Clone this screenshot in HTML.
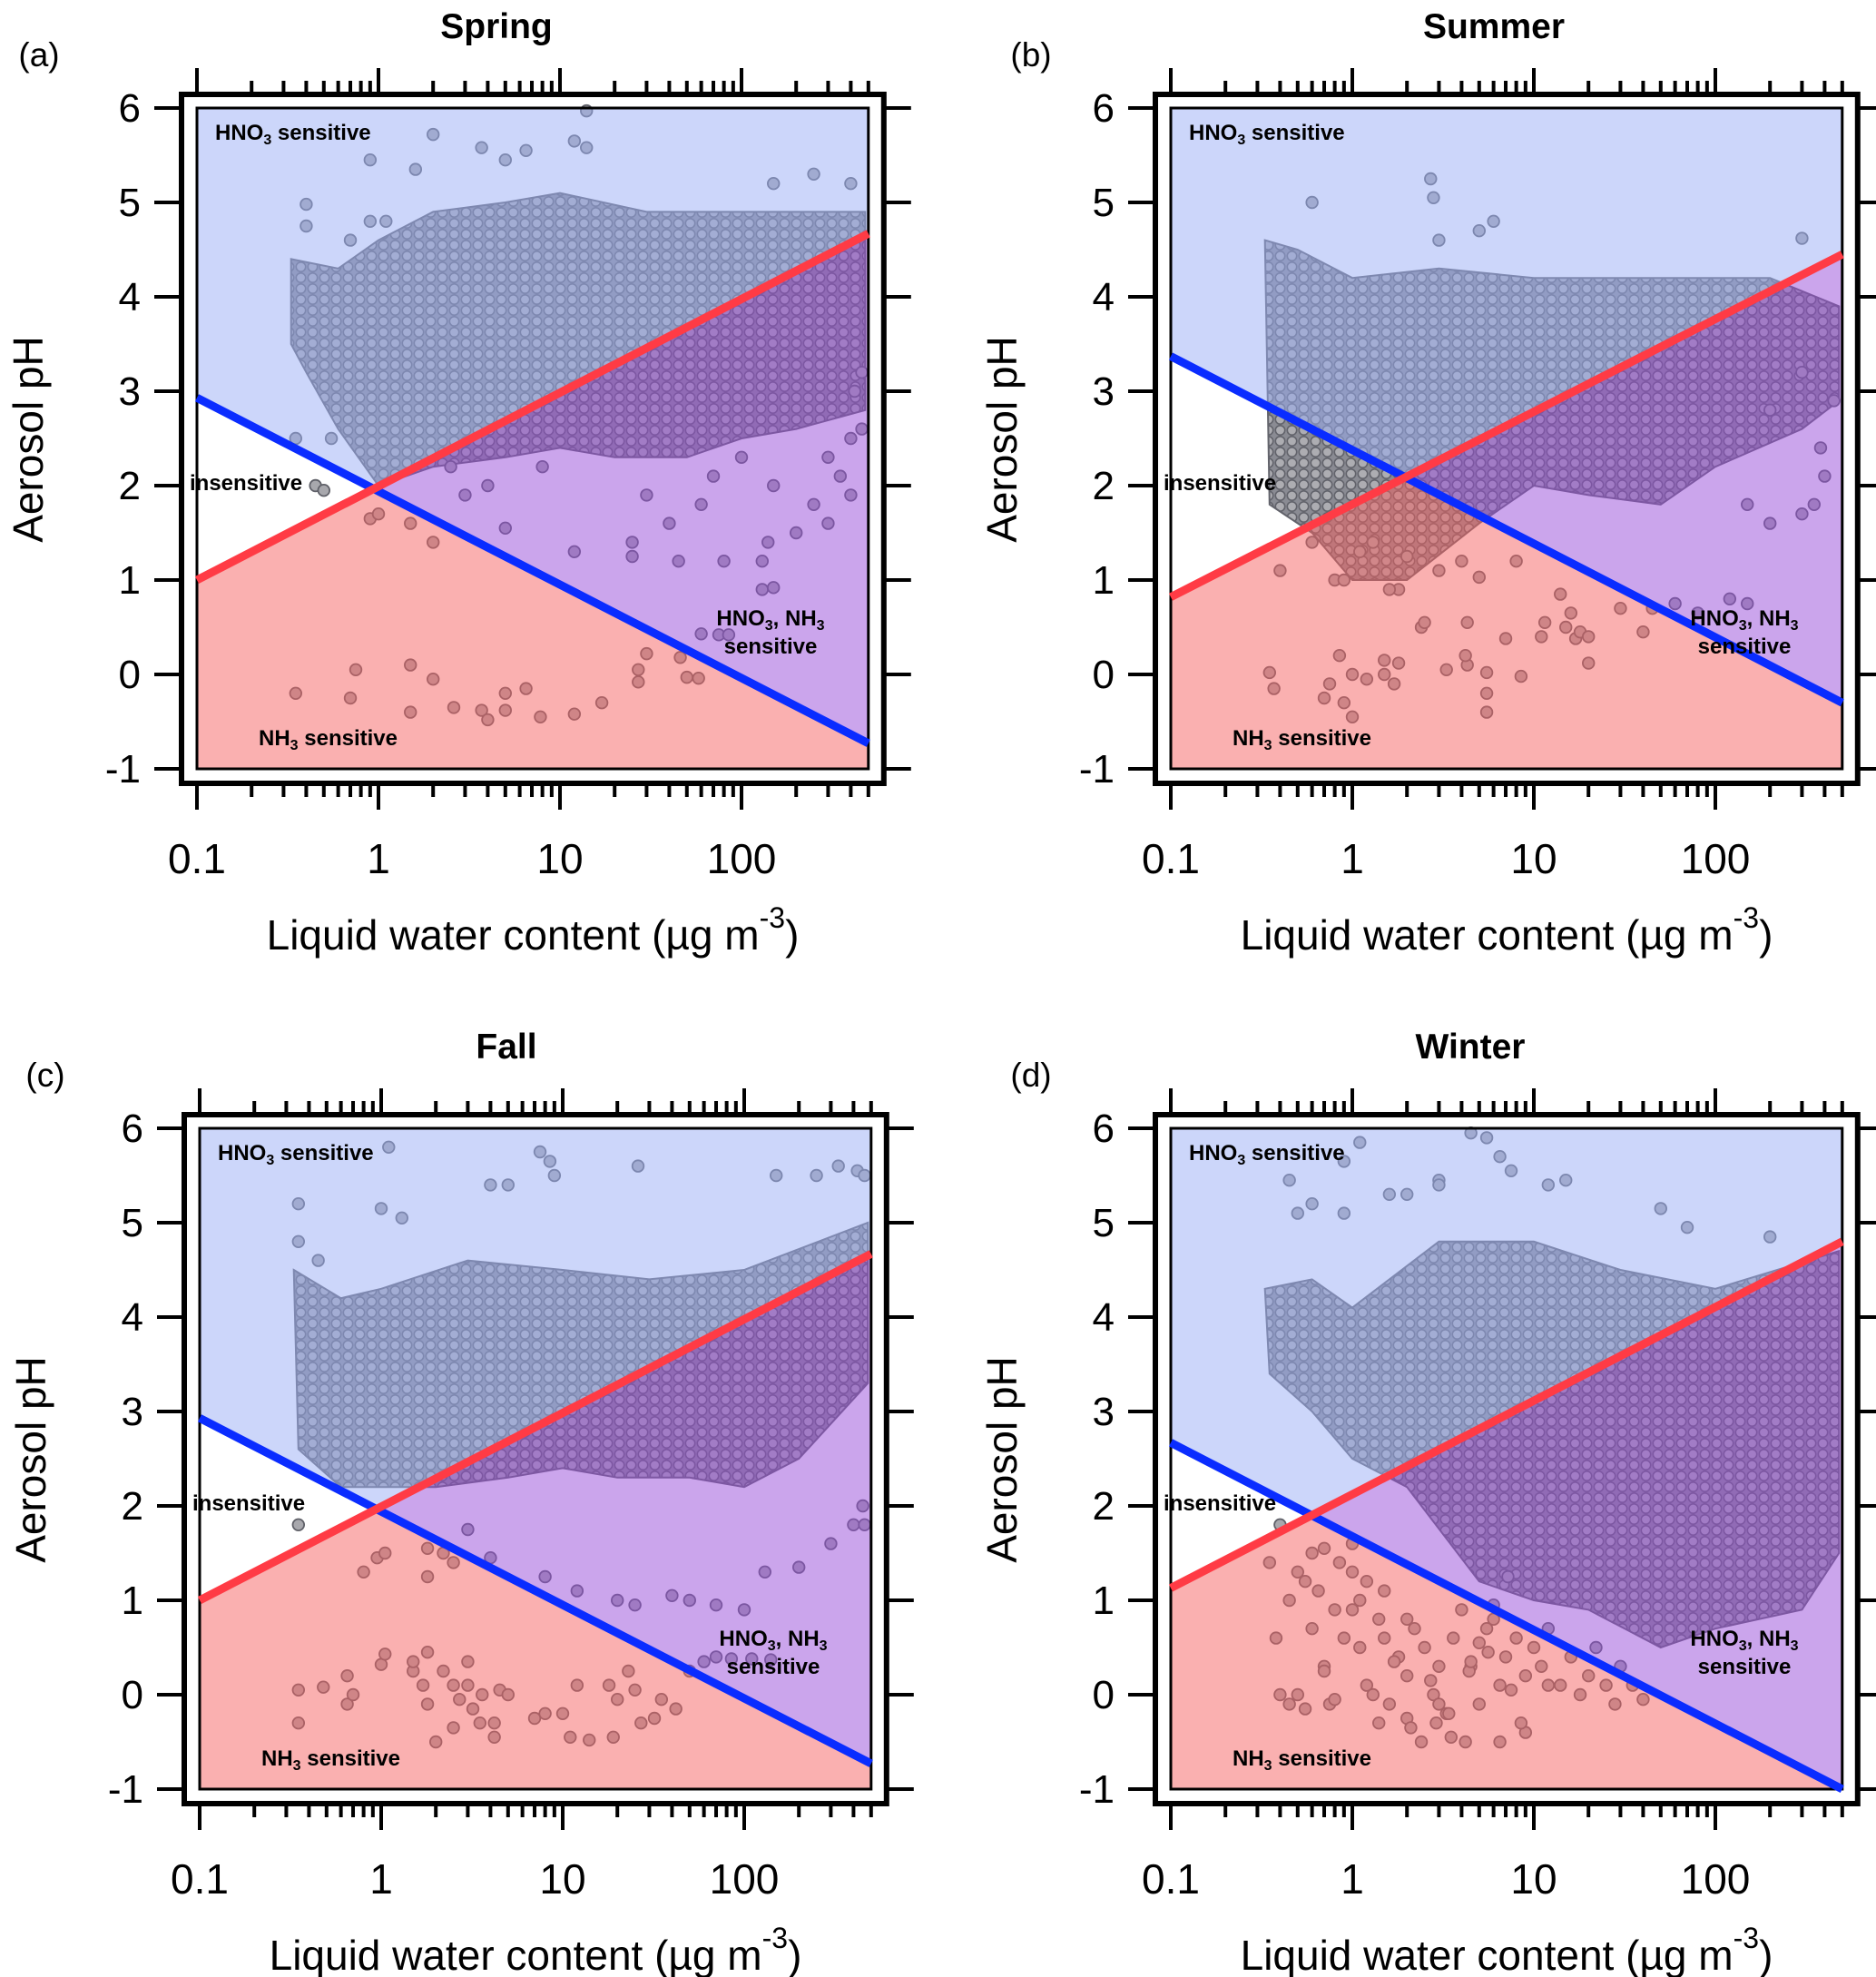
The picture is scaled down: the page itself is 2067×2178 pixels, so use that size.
<!DOCTYPE html>
<html><head><meta charset="utf-8"><style>
html,body{margin:0;padding:0;background:#fff;}
svg{display:block;font-family:"Liberation Sans",sans-serif;}
</style></head><body>
<svg id="chart" width="2067" height="2178" viewBox="0 0 2067 2178" xmlns="http://www.w3.org/2000/svg">
<defs>
<pattern id="dots" width="13" height="12" patternUnits="userSpaceOnUse">
<rect width="13" height="12" fill="#8a8b93"/>
<circle cx="6.5" cy="6" r="5.2" fill="#adadb2" stroke="#62636b" stroke-width="1.6"/>
</pattern>
</defs>
</svg>
<script>
// ---- data (x = liquid water content, ug m-3; y = aerosol pH) ----
const xTicks = [0.1, 1, 10, 100];
const xTickLabels = ["0.1", "1", "10", "100"];
const yTicks = [-1, 0, 1, 2, 3, 4, 5, 6];
const yTickLabels = ["-1", "0", "1", "2", "3", "4", "5", "6"];
const panelTitles = ["Spring", "Summer", "Fall", "Winter"];
const panelLetters = ["(a)", "(b)", "(c)", "(d)"];
// boundary lines: pH at x=0.1 and at x=500
const blueLineA = [2.93, -0.73];
const redLineA = [1.0, 4.67];
const blueLineB = [3.37, -0.30];
const redLineB = [0.82, 4.45];
const blueLineC = [2.93, -0.73];
const redLineC = [1.0, 4.67];
const blueLineD = [2.67, -1.0];
const redLineD = [1.13, 4.8];
// dense point-cloud envelopes [lwc, pH]
const cloudA = [[0.33,4.4],[0.6,4.3],[1,4.6],[2,4.9],[5,5.0],[10,5.1],[30,4.9],[100,4.9],[480,4.9],[480,2.8],[200,2.6],[100,2.5],[50,2.3],[20,2.3],[10,2.4],[5,2.3],[2,2.2],[1,2.0],[0.6,2.6],[0.4,3.2],[0.33,3.5]];
const cloudB = [[0.33,4.6],[0.5,4.5],[1,4.2],[3,4.3],[10,4.2],[30,4.2],[100,4.2],[200,4.2],[480,3.9],[480,2.9],[300,2.6],[100,2.2],[50,1.8],[20,1.9],[10,2.0],[5,1.6],[2,1.0],[1,1.0],[0.6,1.5],[0.35,1.8]];
const cloudC = [[0.33,4.5],[0.6,4.2],[1,4.3],[3,4.6],[10,4.5],[30,4.4],[100,4.5],[480,5.0],[480,3.3],[200,2.5],[100,2.2],[50,2.3],[20,2.3],[10,2.4],[5,2.3],[2,2.2],[1,2.2],[0.6,2.2],[0.35,2.6]];
const cloudD = [[0.33,4.3],[0.6,4.4],[1,4.1],[3,4.8],[10,4.8],[30,4.5],[100,4.3],[480,4.7],[480,1.5],[300,0.9],[100,0.7],[50,0.5],[20,0.9],[10,1.0],[5,1.2],[2,2.2],[1,2.5],[0.6,3.0],[0.35,3.4]];
// sparse points
const lwcA = [0.35,0.7,0.75,1.5,2,1.5,2.6,3.7,4,5,5,6.5,7.8,12,17,27,30,27,46,50,58,60,75,85,0.9,1,1.5,2,12,25,25,40,45,80,130,150,130,140,200,250,300,350,400,300,400,460,460,420,2,0.9,12,14,14,3.7,5,6.5,1.6,0.4,0.4,0.55,0.45,0.5,0.35,0.9,0.7,1.1,150,250,400,2.5,3,5,4,8,30,60,100,70,150];
const phA = [-0.2,-0.25,0.05,0.1,-0.05,-0.4,-0.35,-0.38,-0.48,-0.2,-0.38,-0.15,-0.45,-0.42,-0.3,0.05,0.22,-0.08,0.18,-0.03,-0.04,0.43,0.42,0.42,1.65,1.7,1.6,1.4,1.3,1.4,1.25,1.6,1.2,1.2,0.9,0.92,1.2,1.4,1.5,1.8,1.6,2.1,1.9,2.3,2.5,2.6,3.2,3.0,5.72,5.45,5.65,5.97,5.58,5.58,5.45,5.55,5.35,4.98,4.75,2.5,2.0,1.95,2.5,4.8,4.6,4.8,5.2,5.3,5.2,2.2,1.9,1.55,2.0,2.2,1.9,1.8,2.3,2.1,2.0];
const lwcB = [0.6,2.7,2.8,3,5,6,300,0.35,0.37,0.6,0.4,0.8,0.9,0.7,0.75,0.85,0.9,1,1,1.2,1.5,1.5,1.7,1.8,2.4,2.5,3.3,4.3,4.3,4.2,5.5,5.5,5.5,7,8.5,11,11.5,14,15,16,17,18,20,20,30,40,45,60,1.8,1.6,5,8,150,200,300,350,400,380,450,300,200,80,120,150,2,1.1,1.3,3,4];
const phB = [5.0,5.25,5.05,4.6,4.7,4.8,4.62,0.02,-0.15,1.4,1.1,1.0,1.0,-0.25,-0.1,0.2,-0.3,-0.45,0,-0.05,0.15,0,-0.1,0.12,0.5,0.55,0.05,0.55,0.1,0.2,0.02,-0.2,-0.4,0.38,-0.02,0.4,0.55,0.85,0.5,0.65,0.38,0.45,0.12,0.4,0.7,0.45,0.7,0.75,0.9,0.9,1.03,1.2,1.8,1.6,1.7,1.8,2.1,2.4,2.9,3.2,2.8,0.65,0.8,0.75,1.25,1.3,1.4,1.1,1.2];
const lwcC = [0.35,0.35,0.45,1.1,1,1.3,7.5,8.5,9,26,4,5,150,250,330,420,460,0.35,0.35,0.35,0.48,0.65,0.7,0.65,1,1.05,1.5,1.5,1.8,1.7,1.8,2,2.2,2.5,2.5,2.7,3,3,3.2,3.5,3.6,4.5,4.2,4.2,5,7,8,10,11,12,14,18,19,20,23,25,27,32,35,42,50,60,70,85,110,140,0.8,0.95,1.05,1.8,1.8,2.2,2.5,3,4,8,12,20,25,40,50,70,100,130,200,300,400,450,460];
const phC = [5.2,4.8,4.6,5.8,5.15,5.05,5.75,5.65,5.5,5.6,5.4,5.4,5.5,5.5,5.6,5.55,5.5,1.8,0.05,-0.3,0.08,-0.1,0,0.2,0.32,0.43,0.25,0.35,0.45,0.1,-0.1,-0.5,0.25,0.1,-0.35,-0.05,0.35,0.1,-0.15,-0.3,0,0.05,-0.45,-0.3,0,-0.25,-0.2,-0.2,-0.45,0.1,-0.48,0.1,-0.45,-0.05,0.25,0.05,-0.3,-0.25,-0.05,-0.15,0.25,0.35,0.4,0.38,0.38,0.37,1.3,1.45,1.5,1.25,1.55,1.5,1.4,1.75,1.45,1.25,1.1,1.0,0.95,1.05,1.0,0.95,0.9,1.3,1.35,1.6,1.8,2.0,1.8];
const lwcD = [4.5,5.5,6.5,7.5,1.1,0.9,0.45,3,3,12,15,2,1.6,0.6,0.5,0.9,50,70,200,0.35,0.38,0.4,0.45,0.5,0.55,0.6,0.65,0.7,0.75,0.8,0.9,1,1.1,1.2,1.3,1.5,1.6,1.8,2,2.2,2.5,2.8,3,3.3,3.6,4,4.5,5,5.5,6,6.5,7,8,9,10,11,12,14,16,18,20,22,25,28,30,35,40,0.45,0.55,0.7,0.85,1,1.2,1.4,1.7,2,2.4,2.9,3.5,4.2,5,6,7.5,9,0.4,0.6,0.8,1.1,1.5,2.1,2.7,3.4,4.4,5.6,7.2,0.5,0.7,1,1.4,2,3,4.5,6.5,8.5,12];
const phD = [5.95,5.9,5.7,5.55,5.85,5.65,5.45,5.45,5.4,5.4,5.45,5.3,5.3,5.2,5.1,5.1,5.15,4.95,4.85,1.4,0.6,0.0,1.0,1.3,1.2,1.5,1.1,0.3,-0.1,0.9,0.6,1.3,0.5,0.1,0.0,1.1,-0.1,0.4,0.2,0.7,0.5,0.0,0.3,-0.2,0.6,0.9,0.3,-0.1,0.7,0.8,0.1,0.4,0.6,0.2,0.5,0.3,0.7,0.1,0.4,0.0,0.2,0.5,0.1,-0.1,0.3,0.1,-0.05,-0.1,-0.15,0.25,1.4,1.6,1.2,0.8,0.35,-0.25,-0.5,-0.3,-0.45,-0.5,0.55,0.95,0.05,-0.4,1.8,0.7,-0.05,1.0,0.6,-0.35,0.15,-0.2,0.25,0.45,1.25,0.0,1.55,0.9,-0.3,0.8,-0.1,0.35,-0.5,-0.3,0.1];

// ---- layout ----
const panels = [
  {x0:217,y0:119,blue:blueLineA,red:redLineA,cloud:cloudA,lwc:lwcA,ph:phA,title:0,lx:-174,tx:330},
  {x0:1290,y0:119,blue:blueLineB,red:redLineB,cloud:cloudB,lwc:lwcB,ph:phB,title:1,lx:-154,tx:356},
  {x0:220,y0:1243,blue:blueLineC,red:redLineC,cloud:cloudC,lwc:lwcC,ph:phC,title:2,lx:-170,tx:338},
  {x0:1290,y0:1243,blue:blueLineD,red:redLineD,cloud:cloudD,lwc:lwcD,ph:phD,title:3,lx:-154,tx:330}
];
const DEC = 200, UNIT = 104, XMIN = 0.1, XMAX = 500, YMAX = 6, YMIN = -1;
const svg = document.getElementById('chart');
const NS = 'http://www.w3.org/2000/svg';
function mk(tag, attrs, parent) {
  const e = document.createElementNS(NS, tag);
  for (const k in attrs) e.setAttribute(k, attrs[k]);
  (parent || svg).appendChild(e);
  return e;
}
const W = DEC * Math.log10(XMAX / XMIN);
const H = UNIT * (YMAX - YMIN);

panels.forEach((p, i) => {
  const sx = v => p.x0 + DEC * Math.log10(v / XMIN);
  const sy = v => p.y0 + UNIT * (YMAX - v);
  const g = mk('g', {});
  
  

  const cl = mk('polygon', {points: p.cloud.map(d => sx(d[0]) + ',' + sy(d[1])).join(' '), fill: 'url(#dots)', stroke: '#62636b', 'stroke-width': 2}, g);
  
  
  p.lwc.forEach((v, k) => {
    const c = mk('circle', {cx: sx(v), cy: sy(p.ph[k]), r: 6.3, fill: '#a8a8ad', stroke: '#5f6068', 'stroke-width': 1.8}, g);
    
    
  });

  const b0 = p.blue[0], b1 = p.blue[1], r0 = p.red[0], r1 = p.red[1];
  const t = (b0 - r0) / ((b0 - r0) - (b1 - r1));
  const ix = p.x0 + t * W, iy = sy(b0 + t * (b1 - b0));
  const L = p.x0, R = p.x0 + W, T = sy(YMAX), B = sy(YMIN);
  const poly = (pts, fill, name) => {
    const e = mk('polygon', {points: pts.map(q => q.join(',')).join(' '), fill: fill, 'fill-opacity': 0.5}, g);
    
    
  };
  poly([[L,T],[R,T],[R,sy(r1)],[ix,iy],[L,sy(b0)]], '#99adf5', 'hno3-sensitive-region');
  poly([[ix,iy],[R,sy(r1)],[R,sy(b1)]], '#974bd9', 'hno3-nh3-sensitive-region');
  poly([[L,B],[R,B],[R,sy(b1)],[ix,iy],[L,sy(r0)]], '#f56161', 'nh3-sensitive-region');
  const inner = mk('rect', {x: L, y: T, width: W, height: H, fill: 'none', stroke: '#000', 'stroke-width': 3}, g);
  
  

  const bl = mk('line', {x1: L, y1: sy(b0), x2: R, y2: sy(b1), stroke: '#0a2cff', 'stroke-width': 9}, g);
  
  
  const rl = mk('line', {x1: L, y1: sy(r0), x2: R, y2: sy(r1), stroke: '#ff3b45', 'stroke-width': 9}, g);
  
  

  const FL = L - 17, FR = R + 17, FT = T - 15, FB = B + 16;
  const fr = mk('rect', {x: FL, y: FT, width: FR - FL, height: FB - FT, fill: 'none', stroke: '#000', 'stroke-width': 6}, g);
  
  

  for (let d = 0.1; d < 1000; d *= 10) {
    for (let m = 1; m <= 9; m++) {
      const v = d * m;
      if (v > XMAX * 1.001) continue;
      const x = sx(v), len = m === 1 ? 29 : 15;
      mk('line', {x1: x, y1: FT, x2: x, y2: FT - len, stroke: '#000', 'stroke-width': 4}, g);
      mk('line', {x1: x, y1: FB, x2: x, y2: FB + len, stroke: '#000', 'stroke-width': 4}, g);
    }
  }
  xTicks.forEach((v, k) => {
    const tx = mk('text', {x: sx(v), y: p.y0 + 843, 'font-size': 46, 'text-anchor': 'middle', fill: '#000'}, g);
    tx.textContent = xTickLabels[k];
    
    
  });
  yTicks.forEach((v, k) => {
    const y = sy(v);
    mk('line', {x1: FL, y1: y, x2: FL - 30, y2: y, stroke: '#000', 'stroke-width': 4}, g);
    mk('line', {x1: FR, y1: y, x2: FR + 30, y2: y, stroke: '#000', 'stroke-width': 4}, g);
    const ty = mk('text', {x: p.x0 - 62, y: y + 15, 'font-size': 44, 'text-anchor': 'end', fill: '#000'}, g);
    ty.textContent = yTickLabels[k];
    
    
  });

  const xt = mk('text', {x: p.x0 + 370, y: p.y0 + 927, 'font-size': 46, 'text-anchor': 'middle', fill: '#000'}, g);
  xt.innerHTML = 'Liquid water content (µg m<tspan dy="-24" font-size="32">-3</tspan><tspan dy="24">)</tspan>';
  
  
  const yt = mk('text', {x: 0, y: 0, 'font-size': 46, 'text-anchor': 'middle', fill: '#000', transform: 'translate(' + (p.x0 - 170) + ',' + (p.y0 + 365) + ') rotate(-90)'}, g);
  yt.textContent = 'Aerosol pH';
  
  
  const tt = mk('text', {x: p.x0 + p.tx, y: p.y0 - 77, 'font-size': 39, 'font-weight': 'bold', 'text-anchor': 'middle', fill: '#000'}, g);
  tt.textContent = panelTitles[i];
  
  
  const lt = mk('text', {x: p.x0 + p.lx, y: p.y0 - 46, 'font-size': 37, 'text-anchor': 'middle', fill: '#000'}, g);
  lt.textContent = panelLetters[i];
  
  

  const lab = (x, y, html, name, anchor) => {
    const e = mk('text', {x: x, y: y, 'font-size': 24, 'font-weight': 'bold', 'text-anchor': anchor || 'start', fill: '#000'}, g);
    e.innerHTML = html;
    
    
  };
  lab(L + 20, T + 35, 'HNO<tspan font-size="16" dy="5">3</tspan><tspan dy="-5">  sensitive</tspan>', 'hno3-sensitive-label');
  lab(L - 8, sy(1.95), 'insensitive', 'insensitive-label');
  lab(L + 68, sy(-0.75), 'NH<tspan font-size="16" dy="5">3</tspan><tspan dy="-5">  sensitive</tspan>', 'nh3-sensitive-label');
  lab(L + 632, sy(0.52), 'HNO<tspan font-size="16" dy="5">3</tspan><tspan dy="-5">, NH</tspan><tspan font-size="16" dy="5">3</tspan>', 'hno3-nh3-label', 'middle');
  lab(L + 632, sy(0.22), 'sensitive', 'hno3-nh3-sensitive-label', 'middle');
});
</script>
</body></html>
